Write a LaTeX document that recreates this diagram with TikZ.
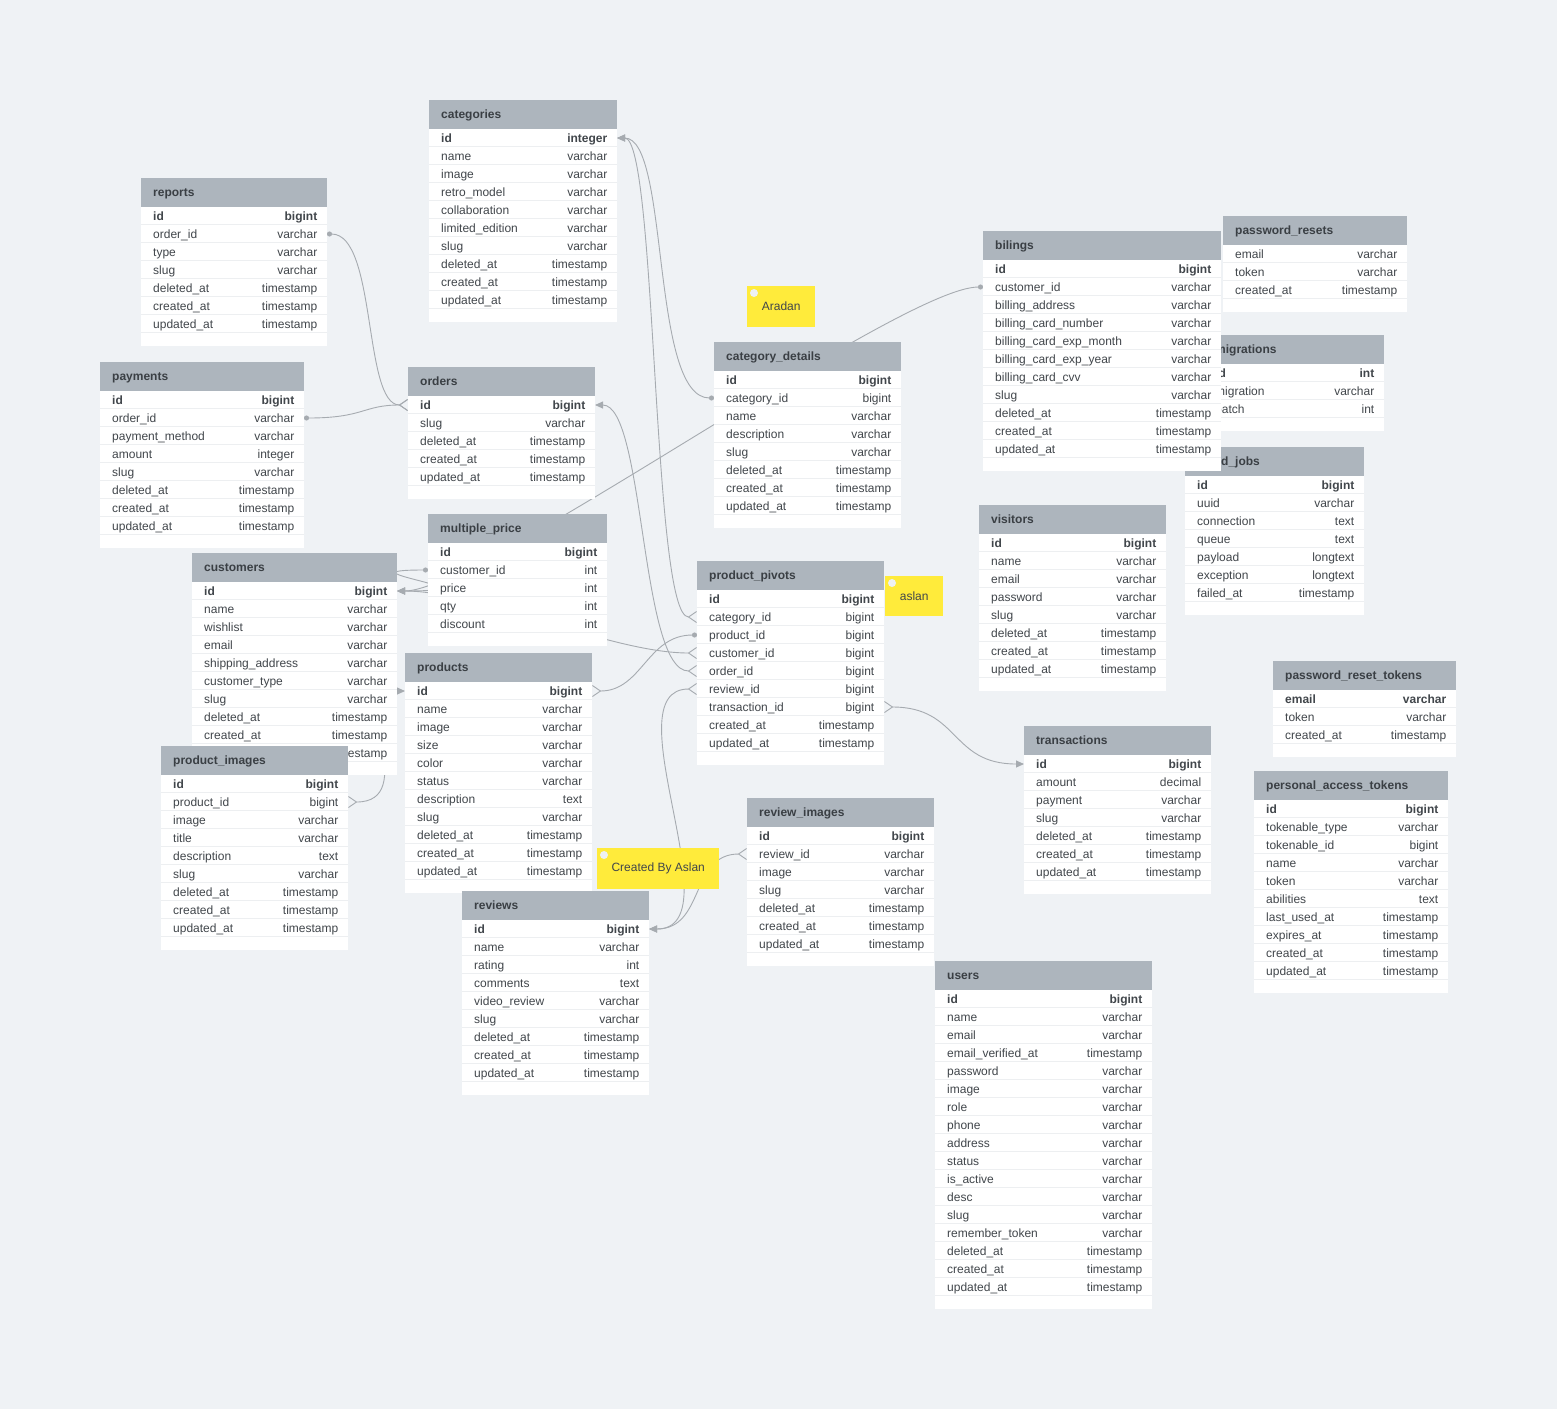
\documentclass[tikz,border=0pt]{standalone}
\usepackage{fontspec}
\setmainfont{Liberation Sans}
\usepackage{xcolor}
\usetikzlibrary{arrows.meta}

\definecolor{canvascol}{HTML}{EFF2F5}
\definecolor{headcol}{HTML}{ADB5BD}
\definecolor{headtxt}{HTML}{3A3F44}
\definecolor{rowtxt}{HTML}{41464B}
\definecolor{rowline}{HTML}{EDEFF1}
\definecolor{linkcol}{HTML}{A6ABB0}
\definecolor{notecol}{HTML}{FFEB3B}
\definecolor{notedot}{HTML}{EEF1F4}

\pgfdeclarelayer{canvas}
\pgfdeclarelayer{links}
\pgfsetlayers{canvas,links,main}

% #1 name, #2 x, #3 y, #4 width, #5 title, #6 key rows, #7 field/type list
\newcommand{\dbtable}[7]{%
  \node[tblhead, minimum width=#4pt, anchor=north west] (#1) at (#2,#3) {};
  \node[headtext, anchor=base west] (#1-title) at ([yshift=-4.3pt]#1.west) {#5};
  \foreach \fld/\typ [count=\i] in {#7} {
    \node[tblrow, minimum width=#4pt, anchor=north west] (#1-\i) at (#2,{#3+29+(\i-1)*18}) {};
    \fill[white] (#1-\i.south west) rectangle ++(#4,13);
    \fill[rowline] ([yshift=1.5pt]#1-\i.south west) rectangle (#1-\i.south east);
    \ifnum\i>#6\relax\def\fnt{}\else\def\fnt{\bfseries}\fi
    \node[fldname, anchor=base west] (#1-\i-f) at ([yshift=-4.3pt]#1-\i.west) {\fnt\fld};
    \node[fldtype, anchor=base east] (#1-\i-t) at ([yshift=-4.3pt]#1-\i.east) {\fnt\typ};
  }%
}

\begin{document}
\begin{tikzpicture}[x=1pt, y=-1pt,
    tblhead/.style={rectangle, fill=headcol, inner sep=0pt, outer sep=0pt, minimum height=29pt},
    tblrow/.style={rectangle, fill=white, inner sep=0pt, outer sep=0pt, minimum height=18pt},
    headtext/.style={font=\fontsize{12}{14}\selectfont\bfseries, text=headtxt, inner xsep=12pt, inner ysep=0pt},
    fldname/.style={font=\fontsize{12}{14}\selectfont, text=rowtxt, inner xsep=12pt, inner ysep=0pt},
    fldtype/.style={font=\fontsize{12}{14}\selectfont, text=rowtxt, inner xsep=9.5pt, inner ysep=0pt},
    note/.style={rectangle, fill=notecol, inner sep=0pt, font=\fontsize{12}{14}\selectfont, text=rowtxt},
    link/.style={draw=linkcol, line width=0.9pt},
    fkdot/.tip={Circle[length=5pt, color=linkcol, fill=linkcol]},
    fkcrow/.tip={Straight Barb[reversed, length=8pt, width=11pt, color=linkcol]},
    pkarrow/.tip={Triangle[length=8pt, width=7pt, color=linkcol, fill=linkcol]}]

  \begin{pgfonlayer}{canvas}
    \fill[canvascol] (0,0) rectangle (1557,1409);
  \end{pgfonlayer}

  % tables
  \dbtable{categories}{429}{100}{188}{categories}{1}{id/integer, name/varchar, image/varchar,
    retro\_model/varchar, collaboration/varchar, limited\_edition/varchar, slug/varchar,
    deleted\_at/timestamp, created\_at/timestamp, updated\_at/timestamp}
  \dbtable{reports}{141}{178}{186}{reports}{1}{id/bigint, order\_id/varchar, type/varchar,
    slug/varchar, deleted\_at/timestamp, created\_at/timestamp, updated\_at/timestamp}
  \dbtable{payments}{100}{362}{204}{payments}{1}{id/bigint, order\_id/varchar,
    payment\_method/varchar, amount/integer, slug/varchar, deleted\_at/timestamp,
    created\_at/timestamp, updated\_at/timestamp}
  \dbtable{orders}{408}{367}{187}{orders}{1}{id/bigint, slug/varchar, deleted\_at/timestamp,
    created\_at/timestamp, updated\_at/timestamp}
  \dbtable{mprice}{428}{514}{179}{multiple\_price}{1}{id/bigint, customer\_id/int, price/int,
    qty/int, discount/int}
  \dbtable{customers}{192}{553}{205}{customers}{1}{id/bigint, name/varchar, wishlist/varchar,
    email/varchar, shipping\_address/varchar, customer\_type/varchar, slug/varchar,
    deleted\_at/timestamp, created\_at/timestamp, updated\_at/timestamp}
  \dbtable{pimages}{161}{746}{187}{product\_images}{1}{id/bigint, product\_id/bigint,
    image/varchar, title/varchar, description/text, slug/varchar, deleted\_at/timestamp,
    created\_at/timestamp, updated\_at/timestamp}
  \dbtable{products}{405}{653}{187}{products}{1}{id/bigint, name/varchar, image/varchar,
    size/varchar, color/varchar, status/varchar, description/text, slug/varchar,
    deleted\_at/timestamp, created\_at/timestamp, updated\_at/timestamp}
  \dbtable{reviews}{462}{891}{187}{reviews}{1}{id/bigint, name/varchar, rating/int,
    comments/text, video\_review/varchar, slug/varchar, deleted\_at/timestamp,
    created\_at/timestamp, updated\_at/timestamp}
  \dbtable{catdetails}{714}{342}{187}{category\_details}{1}{id/bigint, category\_id/bigint,
    name/varchar, description/varchar, slug/varchar, deleted\_at/timestamp,
    created\_at/timestamp, updated\_at/timestamp}
  \dbtable{pivots}{697}{561}{187}{product\_pivots}{1}{id/bigint, category\_id/bigint,
    product\_id/bigint, customer\_id/bigint, order\_id/bigint, review\_id/bigint,
    transaction\_id/bigint, created\_at/timestamp, updated\_at/timestamp}
  \dbtable{rimages}{747}{798}{187}{review\_images}{1}{id/bigint, review\_id/varchar,
    image/varchar, slug/varchar, deleted\_at/timestamp, created\_at/timestamp,
    updated\_at/timestamp}
  \dbtable{users}{935}{961}{217}{users}{1}{id/bigint, name/varchar, email/varchar,
    email\_verified\_at/timestamp, password/varchar, image/varchar, role/varchar,
    phone/varchar, address/varchar, status/varchar, is\_active/varchar, desc/varchar,
    slug/varchar, remember\_token/varchar, deleted\_at/timestamp, created\_at/timestamp,
    updated\_at/timestamp}
  \dbtable{migrations}{1203}{335}{181}{migrations}{1}{id/int, migration/varchar, batch/int}
  \dbtable{fjobs}{1185}{447}{179}{failed\_jobs}{1}{id/bigint, uuid/varchar, connection/text,
    queue/text, payload/longtext, exception/longtext, failed\_at/timestamp}
  \dbtable{bilings}{983}{231}{238}{bilings}{1}{id/bigint, customer\_id/varchar,
    billing\_address/varchar, billing\_card\_number/varchar, billing\_card\_exp\_month/varchar,
    billing\_card\_exp\_year/varchar, billing\_card\_cvv/varchar, slug/varchar,
    deleted\_at/timestamp, created\_at/timestamp, updated\_at/timestamp}
  \dbtable{presets}{1223}{216}{184}{password\_resets}{0}{email/varchar, token/varchar,
    created\_at/timestamp}
  \dbtable{visitors}{979}{505}{187}{visitors}{1}{id/bigint, name/varchar, email/varchar,
    password/varchar, slug/varchar, deleted\_at/timestamp, created\_at/timestamp,
    updated\_at/timestamp}
  \dbtable{transactions}{1024}{726}{187}{transactions}{1}{id/bigint, amount/decimal,
    payment/varchar, slug/varchar, deleted\_at/timestamp, created\_at/timestamp,
    updated\_at/timestamp}
  \dbtable{prtokens}{1273}{661}{183}{password\_reset\_tokens}{1}{email/varchar,
    token/varchar, created\_at/timestamp}
  \dbtable{patokens}{1254}{771}{194}{personal\_access\_tokens}{1}{id/bigint,
    tokenable\_type/varchar, tokenable\_id/bigint, name/varchar, token/varchar,
    abilities/text, last\_used\_at/timestamp, expires\_at/timestamp,
    created\_at/timestamp, updated\_at/timestamp}

  % relations
  \begin{pgfonlayer}{links}
    \draw[link, fkdot-fkcrow] (reports-2.east) .. controls +(50,0) and +(-45,0) .. (orders-1.west);
    \draw[link, fkdot-fkcrow] (payments-2.east) .. controls +(60,0) and +(-45,0) .. (orders-1.west);
    \draw[link, fkdot-pkarrow] (catdetails-2.west) .. controls +(-64,0) and +(53,0) .. (categories-1.east);
    \draw[link, fkcrow-pkarrow] (pivots-2.west) .. controls +(-45,0) and +(40,0) .. (categories-1.east);
    \draw[link, fkcrow-pkarrow] (pivots-5.west) .. controls +(-57,0) and +(50,0) .. (orders-1.east);
    \draw[link, fkdot-pkarrow] (mprice-2.west) .. controls +(-98,0) and +(113,0) .. (customers-1.east);
    \draw[link, fkdot-pkarrow] (bilings-2.west) .. controls +(-83,0) and +(83,0) .. (customers-1.east);
    \draw[link, fkcrow-pkarrow] (pivots-4.west) .. controls +(-87,0) and +(83,0) .. (customers-1.east);
    \draw[link, fkdot-fkcrow] (pivots-3.west) .. controls +(-50,0) and +(50,0) .. (products-1.east);
    \draw[link, fkcrow-pkarrow] (pimages-2.east) .. controls +(72,0) and +(-55,0) .. (products-1.west);
    \draw[link, fkcrow-pkarrow] (pivots-6.west) .. controls +(-87,0) and +(87,0) .. (reviews-1.east);
    \draw[link, fkcrow-pkarrow] (rimages-2.west) .. controls +(-57,0) and +(56,0) .. (reviews-1.east);
    \draw[link, fkcrow-pkarrow] (pivots-7.east) .. controls +(76,0) and +(-74,0) .. (transactions-1.west);
  \end{pgfonlayer}

  % notes
  \node[note, minimum width=68pt, minimum height=41pt, anchor=north west] (aradan) at (747,286) {Aradan};
  \node[note, minimum width=58pt, minimum height=40pt, anchor=north west] (aslan) at (885,576) {aslan};
  \node[note, minimum width=122pt, minimum height=41pt, anchor=north west] (createdby) at (597,848) {Created By Aslan};
  \foreach \n in {aradan, aslan, createdby}
    \fill[notedot] ([shift={(7pt,-7pt)}]\n.north west) circle (4pt);
\end{tikzpicture}
\end{document}
